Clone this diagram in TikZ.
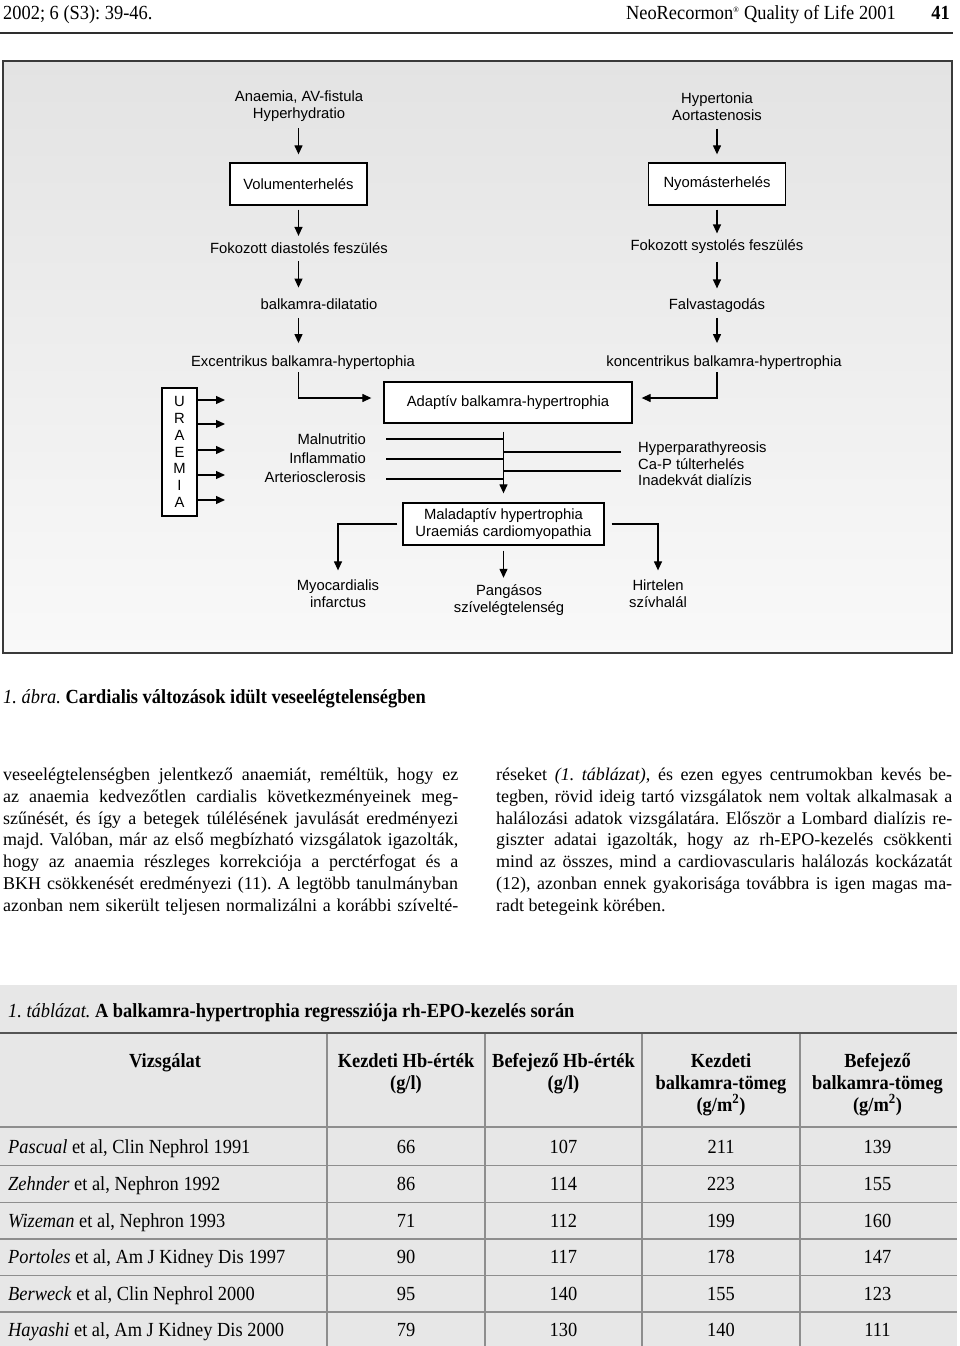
\documentclass[tikz,border=0pt]{standalone}
\usepackage{fontspec}
\setmainfont{Liberation Serif}
\newfontfamily\dia{Liberation Sans}
\newfontfamily\cond[FakeStretch=0.92]{Liberation Serif}
\usetikzlibrary{arrows.meta,calc}
\frenchspacing
\definecolor{framec}{HTML}{3A3A3A}
\definecolor{figtop}{HTML}{E3E3E3}
\definecolor{figbot}{HTML}{F9F9F9}
\definecolor{tabbg}{HTML}{E7E7E7}
\definecolor{tabline}{HTML}{8E8E8E}
\definecolor{tabrule}{HTML}{555555}
\definecolor{rulec}{HTML}{2E2E2E}
\tikzset{
  dtext/.style={font=\dia\fontsize{14.8}{17}\selectfont, inner sep=0pt, align=center},
  stext/.style={font=\dia\fontsize{14.8}{17}\selectfont, inner sep=0pt},
  dbox/.style={draw=black, line width=1.3pt, fill=white, inner sep=0pt,
    font=\dia\fontsize{14.8}{17}\selectfont, align=center},
  conn/.style={line width=1.25pt, draw=black},
  arr/.style={conn, -{Triangle[length=9pt,width=8pt]}},
  hdr/.style={font=\cond\fontsize{20}{24}\selectfont, inner sep=0pt},
  btext/.style={font=\fontsize{18}{21.8}\selectfont, inner sep=0pt, anchor=base west},
  tcell/.style={font=\cond\fontsize{20}{22}\selectfont, inner sep=0pt, anchor=base},
  thead/.style={font=\cond\bfseries\fontsize{20}{22}\selectfont, inner sep=0pt, align=center, anchor=north},
  tline/.style={line width=1.1pt, draw=tabline}
}
\begin{document}
\begin{tikzpicture}[x=1pt,y=-1pt]
\useasboundingbox (0,0) rectangle (960,1346);
\fill[white] (0,0) rectangle (960,1346);

% page header
\node[hdr, anchor=base west] (h1) at (3,20) {2002; 6 (S3): 39-46.};
\node[hdr, anchor=base east] (h2) at (896,20) {NeoRecormon\textsuperscript{\footnotesize ®} Quality of Life 2001};
\node[hdr, anchor=base east, font=\cond\bfseries\fontsize{20}{24}\selectfont] (h3) at (950,20) {41};
\draw[line width=2.5pt, rulec] (0,33) -- (953,33);

% figure frame
\shade[top color=figtop, bottom color=figbot] (3,61) rectangle (952,653);
\draw[line width=2pt, framec] (3,61) rectangle (952,653);

% left chain
\node[dtext] (tA) at (299,106.5) {Anaemia, AV-fistula\\Hyperhydratio};
\node[dbox, minimum width=137pt, minimum height=42pt] (bV) at (298.5,184) {Volumenterhelés};
\node[stext, anchor=base] (tFd) at (299,253) {Fokozott diastolés feszülés};
\node[stext, anchor=base] (tBd) at (319,309.5) {balkamra-dilatatio};
\node[stext, anchor=base] (tEx) at (303,366) {Excentrikus balkamra-hypertophia};

% right chain
\node[dtext] (tH) at (717,106.5) {Hypertonia\\Aortastenosis};
\node[dbox, minimum width=137pt, minimum height=42pt] (bN) at (717,184) {Nyomásterhelés};
\node[stext, anchor=base] (tFs) at (717,250.5) {Fokozott systolés feszülés};
\node[stext, anchor=base] (tFv) at (717,309.5) {Falvastagodás};
\node[stext, anchor=base] (tKo) at (724,366) {koncentrikus balkamra-hypertrophia};

\draw[arr, shorten <=6pt, shorten >=8pt] (tA.south -| bV.north) -- (bV.north);
\draw[arr, shorten <=4pt, shorten >=6pt] (bV.south) -- (bV.south |- tFd.north);
\draw[arr, shorten <=8pt, shorten >=11pt] (bV.south |- tFd.south) -- (bV.south |- tBd.north);
\draw[arr, shorten <=8pt, shorten >=12pt] (bV.south |- tBd.south) -- (bV.south |- tEx.north);

\draw[arr, shorten <=8pt, shorten >=8pt] (tH.south -| bN.north) -- (bN.north);
\draw[arr, shorten <=4pt, shorten >=6pt] (bN.south) -- (bN.south |- tFs.north);
\draw[arr, shorten <=8pt, shorten >=10pt] (bN.south |- tFs.south) -- (bN.south |- tFv.north);
\draw[arr, shorten <=5pt, shorten >=12pt] (bN.south |- tFv.south) -- (bN.south |- tKo.north);

% middle part
\node[dbox, minimum width=248pt, minimum height=41pt] (bA) at (508,402.5) {Adaptív balkamra-hypertrophia};
\draw[arr, shorten <=3pt, shorten >=12pt] (bV.south |- tEx.south) |- ([yshift=4.5pt]bA.west);
\draw[arr, shorten <=3pt, shorten >=9pt] (bN.south |- tKo.south) |- ([yshift=4.5pt]bA.east);

\node[dbox, minimum width=35pt, minimum height=128pt, font=\dia\fontsize{14.8}{16.7}\selectfont] (bU) at (179.5,452) {U\\R\\A\\E\\M\\I\\A};
\coordinate (u1) at (225,400);
\coordinate (u2) at (225,424);
\coordinate (u3) at (225,450);
\coordinate (u4) at (225,475);
\coordinate (u5) at (225,500);
\foreach \i in {1,...,5} \draw[arr] (bU.east |- u\i) -- (u\i);

\node[dtext, align=right, anchor=east, font=\dia\fontsize{14.8}{19}\selectfont] (tM) at (366,458) {Malnutritio\\Inflammatio\\Arteriosclerosis};
\node[dtext, align=left, anchor=west, font=\dia\fontsize{14.8}{16.5}\selectfont] (tHy) at (638,464) {Hyperparathyreosis\\Ca-P túlterhelés\\Inadekvát dialízis};

\node[dbox, minimum width=201pt, minimum height=42pt] (bMal) at (503.5,524) {Maladaptív hypertrophia\\Uraemiás cardiomyopathia};
\draw[arr, shorten <=8pt, shorten >=9pt] (bA.south -| bMal.north) -- (bMal.north);

\coordinate (ml1) at (386,439);
\coordinate (ml2) at (386,459);
\coordinate (ml3) at (386,479);
\coordinate (mr1) at (621,452);
\coordinate (mr2) at (621,471);
\foreach \c in {ml1,ml2,ml3,mr1,mr2} \draw[conn] (\c) -- (\c -| bMal.north);

% outcomes
\node[dtext] (tMy) at (338,593.5) {Myocardialis\\infarctus};
\node[dtext] (tPa) at (509,600.5) {Pangásos\\szívelégtelenség};
\node[dtext] (tHi) at (658,593.5) {Hirtelen\\szívhalál};
\draw[arr, shorten <=5pt, shorten >=9pt] (bMal.west) -| (tMy.north);
\draw[arr, shorten <=5pt, shorten >=7pt] (bMal.south) -- (bMal.south |- tPa.north);
\draw[arr, shorten <=7pt, shorten >=9pt] (bMal.east) -| (tHi.north);

% figure caption
\node[hdr, anchor=base west] (cap) at (3,703) {\textit{1. ábra.} \textbf{Cardialis változások idült veseelégtelenségben}};

% body text left column
\node[btext] (L1) at (3,780.5) {\makebox[455pt][s]{veseelégtelenségben jelentkező anaemiát, reméltük, hogy ez}};
\node[btext] (L2) at (3,802.3) {\makebox[455pt][s]{az anaemia kedvezőtlen cardialis következményeinek meg-}};
\node[btext] (L3) at (3,824.1) {\makebox[455pt][s]{szűnését, és így a betegek túlélésének javulását eredményezi}};
\node[btext] (L4) at (3,845.9) {\makebox[455pt][s]{majd. Valóban, már az első megbízható vizsgálatok igazolták,}};
\node[btext] (L5) at (3,867.7) {\makebox[455pt][s]{hogy az anaemia részleges korrekciója a perctérfogat és a}};
\node[btext] (L6) at (3,889.5) {\makebox[455pt][s]{BKH csökkenését eredményezi (11). A legtöbb tanulmányban}};
\node[btext] (L7) at (3,911.3) {\makebox[455pt][s]{azonban nem sikerült teljesen normalizálni a korábbi szívelté-}};

% body text right column
\node[btext] (R1) at (496,780.5) {\makebox[456pt][s]{réseket \textit{(1. táblázat)}, és ezen egyes centrumokban kevés be-}};
\node[btext] (R2) at (496,802.3) {\makebox[456pt][s]{tegben, rövid ideig tartó vizsgálatok nem voltak alkalmasak a}};
\node[btext] (R3) at (496,824.1) {\makebox[456pt][s]{halálozási adatok vizsgálatára. Először a Lombard dialízis re-}};
\node[btext] (R4) at (496,845.9) {\makebox[456pt][s]{giszter adatai igazolták, hogy az rh-EPO-kezelés csökkenti}};
\node[btext] (R5) at (496,867.7) {\makebox[456pt][s]{mind az összes, mind a cardiovascularis halálozás kockázatát}};
\node[btext] (R6) at (496,889.5) {\makebox[456pt][s]{(12), azonban ennek gyakorisága továbbra is igen magas ma-}};
\node[btext] (R7) at (496,911.3) {radt betegeink körében.};

% table
\fill[tabbg] (0,985) rectangle (957,1346);
\node[hdr, anchor=base west] (tcap) at (8,1017.5) {\textit{1. táblázat.} \textbf{A balkamra-hypertrophia regressziója rh-EPO-kezelés során}};
\draw[line width=2.2pt, tabrule] (0,1033) -- (957,1033);
\foreach \x in {327,485,642,800} \draw[tline] (\x,1034) -- (\x,1346);
\foreach \y in {1127,1165.5,1202.5,1239,1275.5,1312} \draw[tline] (0,\y) -- (957,\y);

\node[thead] (hd1) at (165,1053) {Vizsgálat};
\node[thead] (hd2) at (406,1053) {Kezdeti Hb-érték\\(g/l)};
\node[thead] (hd3) at (563.5,1053) {Befejező Hb-érték\\(g/l)};
\node[thead] (hd4) at (721,1053) {Kezdeti\\balkamra-tömeg\\(g/m\textsuperscript{2})};
\node[thead] (hd5) at (877.5,1053) {Befejező\\balkamra-tömeg\\(g/m\textsuperscript{2})};

\foreach \y/\n/\a/\b/\c/\d/\e [count=\k] in {
  1153.5/Pascual/{et al, Clin Nephrol 1991}/66/107/211/139,
  1190.5/Zehnder/{et al, Nephron 1992}/86/114/223/155,
  1227.5/Wizeman/{et al, Nephron 1993}/71/112/199/160,
  1263.5/Portoles/{et al, Am J Kidney Dis 1997}/90/117/178/147,
  1300.5/Berweck/{et al, Clin Nephrol 2000}/95/140/155/123,
  1336.5/Hayashi/{et al, Am J Kidney Dis 2000}/79/130/140/111}{
  \node[tcell, anchor=base west] (r\k c1) at (8,\y) {\textit{\n} \a};
  \node[tcell] (r\k c2) at (406,\y) {\b};
  \node[tcell] (r\k c3) at (563.5,\y) {\c};
  \node[tcell] (r\k c4) at (721,\y) {\d};
  \node[tcell] (r\k c5) at (877.5,\y) {\e};
}
\end{tikzpicture}
\end{document}
